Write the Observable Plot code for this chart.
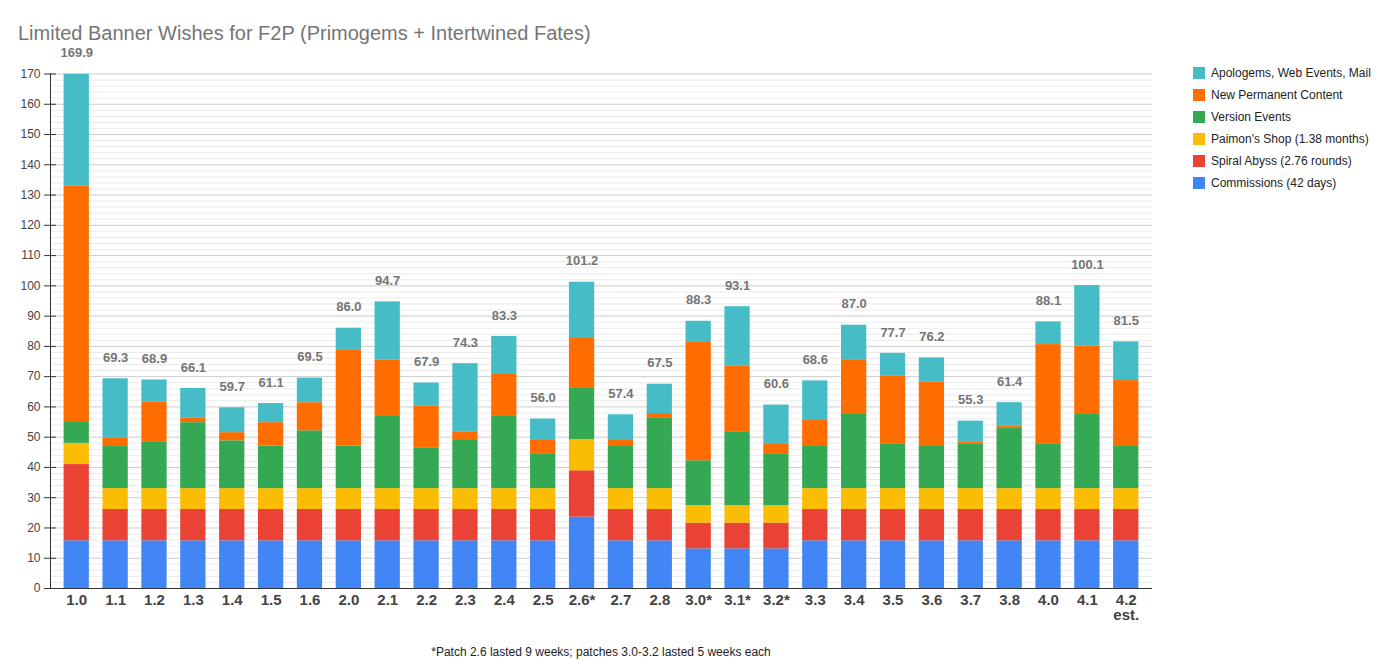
<!DOCTYPE html>
<html>
<head>
<meta charset="utf-8">
<script src="https://cdn.jsdelivr.net/npm/d3@7"></script>
<script src="https://cdn.jsdelivr.net/npm/@observablehq/plot@0.6"></script>
<style>
  body { margin: 0; background: #fff; font-family: "Liberation Sans", Arial, sans-serif; }
  #wrap { position: relative; width: 1376px; height: 660px; }
  #title { position: absolute; left: 18px; top: 22px; font-size: 20px; color: #757575; white-space: nowrap; }
  #chart { position: absolute; left: 0; top: 0; }
  #legend { position: absolute; left: 1193px; top: 62px; font-size: 12px; color: #222; }
  .row { height: 22px; display: flex; align-items: center; white-space: nowrap; }
  .sw { width: 12px; height: 12px; margin-right: 6px; flex: none; }
  #foot { position: absolute; left: 0; width: 1202px; top: 645px; text-align: center; font-size: 12px; color: #222; }
</style>
</head>
<body>
<div id="wrap">
  <div id="chart"></div>
  <div id="title">Limited Banner Wishes for F2P (Primogems + Intertwined Fates)</div>
  <div id="legend"></div>
  <div id="foot">*Patch 2.6 lasted 9 weeks; patches 3.0-3.2 lasted 5 weeks each</div>
</div>
<script>
const patches = ["1.0","1.1","1.2","1.3","1.4","1.5","1.6","2.0","2.1","2.2","2.3","2.4","2.5","2.6*","2.7","2.8","3.0*","3.1*","3.2*","3.3","3.4","3.5","3.6","3.7","3.8","4.0","4.1","4.2\nest."];
const seriesNames = ["Commissions (42 days)","Spiral Abyss (2.76 rounds)","Paimon's Shop (1.38 months)","Version Events","New Permanent Content","Apologems, Web Events, Mail"];
const seriesColors = ["#4285f4","#ea4335","#fbbc04","#34a853","#ff6d01","#46bdc6"];

const commissions = [15.75,15.75,15.75,15.75,15.75,15.75,15.75,15.75,15.75,15.75,15.75,15.75,15.75,23.6,15.75,15.75,13.1,13.1,13.1,15.75,15.75,15.75,15.75,15.75,15.75,15.75,15.75,15.75];
const abyss       = [25.2,10.35,10.35,10.35,10.35,10.35,10.35,10.35,10.35,10.35,10.35,10.35,10.35,15.3,10.35,10.35,8.5,8.5,8.5,10.35,10.35,10.35,10.35,10.35,10.35,10.35,10.35,10.35];
const shop        = [7.0,6.9,6.9,6.9,6.9,6.9,6.9,6.9,6.9,6.9,6.9,6.9,6.9,10.3,6.9,6.9,5.8,5.8,5.8,6.9,6.9,6.9,6.9,6.9,6.9,6.9,6.9,6.9];
const versionEvents = [6.9,13.9,15.5,21.8,15.8,14.1,19.1,14.0,24.1,13.5,16.2,24.1,11.3,16.9,14.2,23.2,14.8,24.4,16.9,14.2,24.5,14.6,14.2,14.6,19.9,14.6,24.5,14.2];
const permanent   = [78.2,2.7,13.2,1.6,2.7,7.7,9.3,31.9,18.3,13.7,2.4,13.9,4.6,16.5,2.0,1.6,39.1,21.6,3.3,8.3,18.1,22.7,21.1,0.9,0.7,33.0,22.7,21.5];
const apologems   = [36.85,19.7,7.2,9.7,8.2,6.3,8.1,7.1,19.3,7.7,22.7,12.3,7.1,18.6,8.2,9.7,7.0,19.7,13.0,13.1,11.4,7.4,7.9,6.8,7.8,7.5,19.9,12.8];

const seriesValues = [commissions, abyss, shop, versionEvents, permanent, apologems];

const rows = [];
seriesNames.forEach((s, si) => {
  patches.forEach((p, pi) => rows.push({patch: p, series: s, value: seriesValues[si][pi]}));
});
const totals = patches.map((p, pi) => ({patch: p, total: d3.sum(seriesValues, v => v[pi])}));

const majorTicks = d3.range(0, 171, 10);
const minorTicks = d3.range(0, 171, 2).filter(v => v % 10 !== 0);

const chart = Plot.plot({
  width: 1170,
  height: 630,
  marginTop: 73.5,
  marginBottom: 42,
  marginLeft: 50,
  marginRight: 18,
  style: {fontFamily: '"Liberation Sans", Arial, sans-serif', background: "transparent"},
  x: {domain: patches, padding: 0.35, round: false, label: null},
  y: {domain: [0, 170], label: null},
  color: {domain: seriesNames, range: seriesColors},
  marks: [
    Plot.ruleY(minorTicks, {stroke: "#ebebeb", strokeWidth: 1}),
    Plot.ruleY(majorTicks, {stroke: "#cccccc", strokeWidth: 1}),
    Plot.barY(rows, Plot.stackY({order: seriesNames}, {x: "patch", y: "value", fill: "series", z: "series"})),
    Plot.text(totals, {x: "patch", y: "total", text: d => d.total.toFixed(1), dy: -21, fontSize: 13, fontWeight: "bold", fill: "#757575"}),
    Plot.axisY({ticks: majorTicks, tickSize: 12, dx: 6, tickFormat: () => "", stroke: "#333"}),
    Plot.axisY({ticks: majorTicks, tickSize: 0, tickPadding: 10, fontSize: 12, fill: "#444", tickFormat: d => d}),
    Plot.axisX({tickSize: 0, tickPadding: 6, fontSize: 15, fontWeight: "bold", fill: "#444", lineAnchor: "top", label: null}),
    Plot.frame({anchor: "left", stroke: "#333"}),
    Plot.ruleY([0], {stroke: "#333", strokeWidth: 1.2})
  ]
});
document.getElementById("chart").appendChild(chart);

const legend = document.getElementById("legend");
for (let i = seriesNames.length - 1; i >= 0; i--) {
  const row = document.createElement("div");
  row.className = "row";
  row.innerHTML = `<span class="sw" style="background:${seriesColors[i]}"></span><span>${seriesNames[i]}</span>`;
  legend.appendChild(row);
}
</script>
</body>
</html>
